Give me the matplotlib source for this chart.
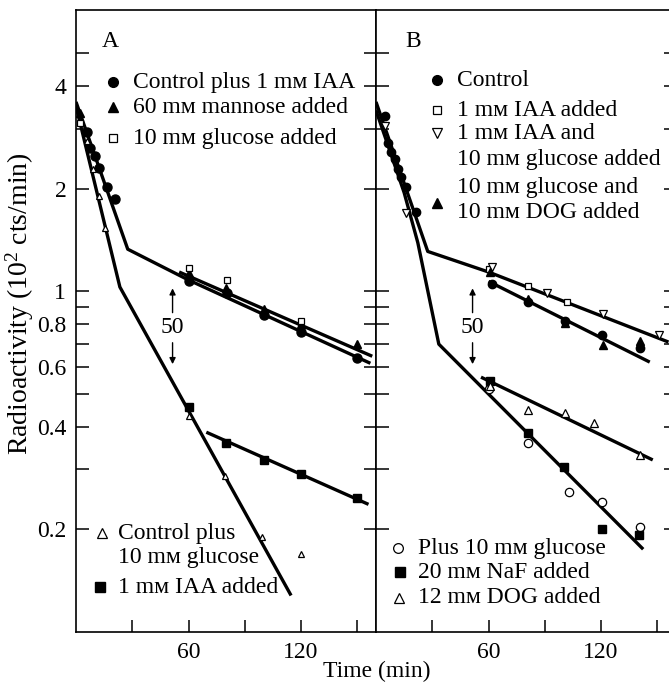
import matplotlib.pyplot as plt
from matplotlib.ticker import FixedLocator, FixedFormatter, NullLocator

plt.rcParams['font.family'] = ['Liberation Serif', 'DejaVu Serif']
plt.rcParams['mathtext.fontset'] = 'custom'
plt.rcParams['mathtext.rm'] = 'Liberation Serif'
plt.rcParams['mathtext.it'] = 'Liberation Serif:italic'

# ---- panel A data (time in min, radioactivity in 10^2 cts/min)
a_ctrl_t = [5.8, 7.4, 10, 12.4, 16.5, 21, 60.5, 80.5, 100.4, 120, 150]
a_ctrl_y = [2.94, 2.64, 2.49, 2.31, 2.03, 1.87, 1.07, 0.99, 0.85, 0.76, 0.636]
a_mann_t = [2, 7.4, 60, 80, 100.4, 120, 150]
a_mann_y = [3.35, 2.66, 1.13, 1.02, 0.89, 0.80, 0.70]
a_gluc_t = [2.1, 60.5, 80.7, 120]
a_gluc_y = [3.13, 1.17, 1.08, 0.817]
a_cg_t = [6, 8.9, 12.2, 15.6, 60, 79.7, 99.3, 120]
a_cg_y = [2.76, 2.29, 1.90, 1.54, 0.43, 0.287, 0.19, 0.17]
a_iaa_t = [60, 80, 100, 120, 150]
a_iaa_y = [0.457, 0.36, 0.319, 0.29, 0.247]

a_fit1_t = [0, 27.6, 60, 157]
a_fit1_y = [3.6, 1.33, 1.08, 0.615]
a_fit2_t = [55, 158]
a_fit2_y = [1.14, 0.645]
a_fit3_t = [0, 23.4, 114.7]
a_fit3_y = [3.5, 1.03, 0.128]
a_fit4_t = [69.5, 156]
a_fit4_y = [0.386, 0.237]

# ---- panel B data
b_ctrl_t = [4.6, 6.4, 8, 9.9, 11.7, 13.3, 16, 21.2, 61.6, 81.3, 100.9, 120.5, 141]
b_ctrl_y = [3.27, 2.72, 2.57, 2.44, 2.28, 2.16, 2.03, 1.71, 1.05, 0.93, 0.817, 0.743, 0.68]
b_iaa_t = [60, 81, 102]
b_iaa_y = [1.16, 1.04, 0.93]
b_iaag_t = [4.6, 16, 61.6, 91, 121, 151]
b_iaag_y = [3.05, 1.70, 1.18, 0.99, 0.856, 0.743]
b_gdog_t = [61, 81.3, 101, 121, 141]
b_gdog_y = [1.14, 0.95, 0.806, 0.694, 0.714]
b_plus_t = [60, 80.9, 103, 120.5, 140.7]
b_plus_y = [0.516, 0.36, 0.257, 0.24, 0.203]
b_naf_t = [61, 80.9, 100.4, 120.5, 140]
b_naf_y = [0.545, 0.383, 0.305, 0.20, 0.193]
b_dog_t = [61, 81, 101, 116, 140.7]
b_dog_y = [0.526, 0.45, 0.44, 0.41, 0.33]

b_fit1_t = [0, 27.6, 60, 156]
b_fit1_y = [3.6, 1.31, 1.14, 0.71]
b_fit2_t = [60, 146]
b_fit2_y = [1.07, 0.62]
b_fit3_t = [0, 15, 22.3, 33.5, 142.5]
b_fit3_y = [3.4, 1.95, 1.39, 0.70, 0.175]
b_fit4_t = [56, 147.6]
b_fit4_y = [0.56, 0.32]

ytick_vals = [5, 4, 3, 2, 1, 0.9, 0.8, 0.7, 0.6, 0.5, 0.4, 0.3, 0.2]
ytick_labels = ['', '4', '', '2', '1', '', '0.8', '', '0.6', '', '0.4', '', '0.2']
xtick_vals = [30, 60, 90, 120, 150]
xtick_labels = ['', '60', '', '120', '']

FS = 17
LW = 2.4

fig = plt.figure(figsize=(6.69, 6.86), dpi=100)
W, H = 669, 686
axA = fig.add_axes([76 / W, 54 / H, 300 / W, 622 / H])
axB = fig.add_axes([376 / W, 54 / H, 300 / W, 622 / H])

for ax in (axA, axB):
    ax.set_yscale('log')
    ax.set_xlim(0, 160)
    ax.set_ylim(0.1, 6.7)
    ax.yaxis.set_major_locator(FixedLocator(ytick_vals))
    ax.yaxis.set_minor_locator(NullLocator())
    ax.xaxis.set_major_locator(FixedLocator(xtick_vals))
    ax.xaxis.set_major_formatter(FixedFormatter(xtick_labels))
    ax.tick_params(direction='in', length=9, width=1.1, labelsize=FS,
                   left=True, right=True, top=False, bottom=True)
    ax.tick_params(axis='x', pad=7)
    for s in ax.spines.values():
        s.set_linewidth(1.2)

axA.yaxis.set_major_formatter(FixedFormatter(ytick_labels))
axA.tick_params(axis='y', pad=7)
axB.yaxis.set_major_formatter(FixedFormatter([''] * len(ytick_vals)))

line_kw = dict(color='black', lw=LW, solid_capstyle='butt', zorder=2)
filled = dict(ls='none', color='black', zorder=3)
opened = dict(ls='none', mfc='white', mec='black', mew=0.9, zorder=3)

# panel A
axA.plot(a_fit1_t, a_fit1_y, **line_kw)
axA.plot(a_fit2_t, a_fit2_y, **line_kw)
axA.plot(a_fit3_t, a_fit3_y, **line_kw)
axA.plot(a_fit4_t, a_fit4_y, **line_kw)
axA.plot(a_ctrl_t, a_ctrl_y, marker='o', ms=6.5, **filled)
axA.plot(a_mann_t, a_mann_y, marker='^', ms=6, **filled)
axA.plot(a_gluc_t, a_gluc_y, marker='s', ms=5, **opened)
axA.plot(a_cg_t, a_cg_y, marker='^', ms=4.5, **opened)
axA.plot(a_iaa_t, a_iaa_y, marker='s', ms=6, **filled)

# panel B
axB.plot(b_fit1_t, b_fit1_y, **line_kw)
axB.plot(b_fit2_t, b_fit2_y, **line_kw)
axB.plot(b_fit3_t, b_fit3_y, **line_kw)
axB.plot(b_fit4_t, b_fit4_y, **line_kw)
axB.plot(b_ctrl_t, b_ctrl_y, marker='o', ms=6, **filled)
axB.plot(b_iaa_t, b_iaa_y, marker='s', ms=5, **opened)
axB.plot(b_iaag_t, b_iaag_y, marker='v', ms=5.5, **opened)
axB.plot(b_gdog_t, b_gdog_y, marker='^', ms=6, **filled)
axB.plot(b_plus_t, b_plus_y, marker='o', ms=6, **opened)
axB.plot(b_naf_t, b_naf_y, marker='s', ms=6, **filled)
axB.plot(b_dog_t, b_dog_y, marker='^', ms=5.5, **opened)

# "50" double arrows
for ax, tx in ((axA, 51.5), (axB, 51.5)):
    arr = dict(arrowstyle='-|>', color='black', lw=1.0, mutation_scale=9)
    ax.annotate('', xy=(tx, 1.04), xytext=(tx, 0.85), arrowprops=arr)
    ax.annotate('', xy=(tx, 0.60), xytext=(tx, 0.72), arrowprops=arr)
    ax.text(tx, 0.785, '50', fontsize=FS, ha='center', va='center')

# legends drawn as text
def key(ax, x, y, marker, ms, fill):
    ax.plot([x], [y], marker=marker, ms=ms, transform=ax.transAxes, clip_on=False,
            **(filled if fill else opened))

def label(ax, x, y, s):
    ax.text(x, y, s, transform=ax.transAxes, fontsize=FS, ha='left', va='center')

mm = 'm\u1d0d'
axA.text(0.113, 0.949, 'A', transform=axA.transAxes, fontsize=FS, ha='center', va='center')
key(axA, 0.123, 0.884, 'o', 7, True)
label(axA, 0.19, 0.884, f'Control plus 1 {mm} IAA')
key(axA, 0.123, 0.844, '^', 7, True)
label(axA, 0.19, 0.844, f'60 {mm} mannose added')
key(axA, 0.123, 0.794, 's', 5.5, False)
label(axA, 0.19, 0.794, f'10 {mm} glucose added')
key(axA, 0.087, 0.159, '^', 6.5, False)
label(axA, 0.14, 0.159, 'Control plus')
label(axA, 0.14, 0.119, f'10 {mm} glucose')
key(axA, 0.08, 0.072, 's', 6.5, True)
label(axA, 0.14, 0.072, f'1 {mm} IAA added')

axB.text(0.123, 0.949, 'B', transform=axB.transAxes, fontsize=FS, ha='center', va='center')
key(axB, 0.203, 0.887, 'o', 7, True)
label(axB, 0.27, 0.887, 'Control')
key(axB, 0.203, 0.839, 's', 5.5, False)
label(axB, 0.27, 0.839, f'1 {mm} IAA added')
key(axB, 0.203, 0.802, 'v', 6.5, False)
label(axB, 0.27, 0.802, f'1 {mm} IAA and')
label(axB, 0.27, 0.759, f'10 {mm} glucose added')
key(axB, 0.203, 0.690, '^', 7, True)
label(axB, 0.27, 0.714, f'10 {mm} glucose and')
label(axB, 0.27, 0.674, f'10 {mm} DOG added')
key(axB, 0.073, 0.135, 'o', 7, False)
label(axB, 0.14, 0.135, f'Plus 10 {mm} glucose')
key(axB, 0.08, 0.096, 's', 6.5, True)
label(axB, 0.14, 0.096, f'20 {mm} NaF added')
key(axB, 0.077, 0.055, '^', 6.5, False)
label(axB, 0.14, 0.055, f'12 {mm} DOG added')

fig.text(20 / W, 0.558, r'Radioactivity (10$^2$ cts/min)', rotation=90,
         fontsize=20, ha='center', va='center')
fig.text(377 / W, 0.021, 'Time (min)', fontsize=FS, ha='center', va='center')

fig.savefig('out.png', dpi=100)
